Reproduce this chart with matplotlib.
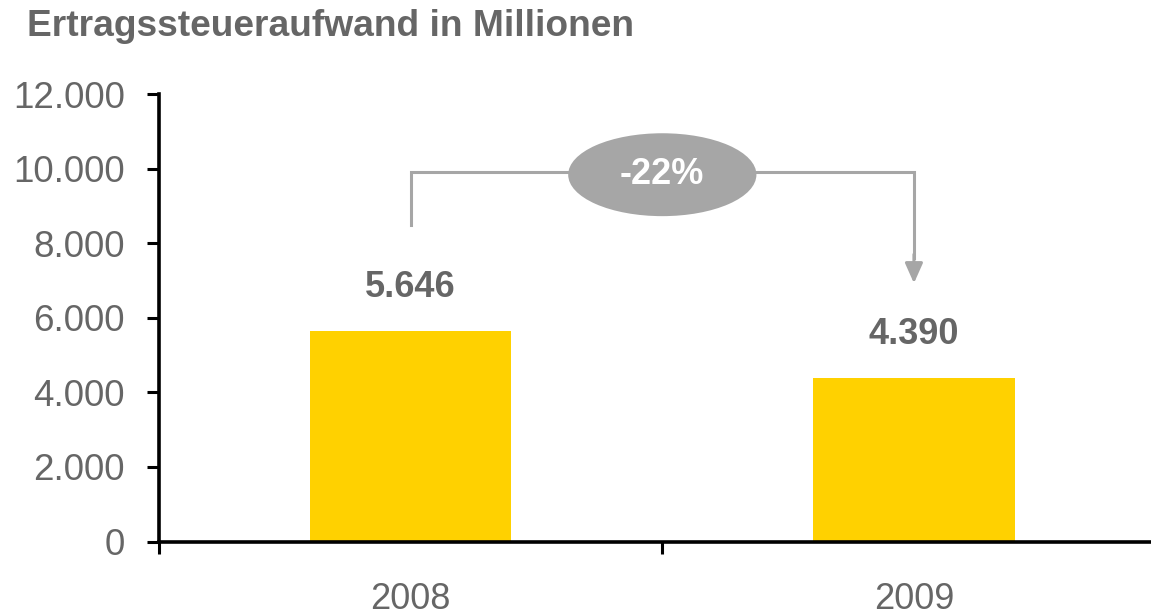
"""Ertragssteueraufwand 2008 vs 2009, bar chart with change bracket."""
import matplotlib

matplotlib.use("Agg")
import matplotlib.pyplot as plt
from matplotlib.patches import Ellipse
from matplotlib.ticker import FuncFormatter

years = ["2008", "2009"]
tax_expense = [5646, 4390]
y_ticks = [0, 2000, 4000, 6000, 8000, 10000, 12000]

TITLE = "Ertragssteueraufwand in Millionen"
BAR_COLOR = "#FFD100"
TEXT_GRAY = "#666666"
LINE_GRAY = "#A6A6A6"

plt.rcParams["font.family"] = ["Liberation Sans", "DejaVu Sans"]


def de_thousands(v, _pos=None):
    return f"{int(round(v)):,}".replace(",", ".")


def main():
    fig = plt.figure(figsize=(11.51, 6.12), dpi=100)
    ax = fig.add_axes([159 / 1151, 1 - 541.5 / 612, 1 - 159 / 1151, (541.5 - 94) / 612])

    x = list(range(len(years)))
    ax.bar(x, tax_expense, width=0.40, color=BAR_COLOR, zorder=2)

    ax.set_yticks(y_ticks)
    ax.yaxis.set_major_formatter(FuncFormatter(de_thousands))

    # category labels without marks, boundary ticks as minor marks
    ax.set_xticks(x)
    ax.set_xticklabels(years)
    ax.set_xticks([-0.5, 0.5, 1.5], minor=True)
    # limits last, set_xticks would widen them
    ax.set_xlim(-0.5, 1.471)
    ax.set_ylim(0, 12000)
    ax.tick_params(axis="x", which="major", length=0, pad=29,
                   labelsize=26, labelcolor=TEXT_GRAY)
    ax.tick_params(axis="x", which="minor", length=8.5, width=2.2,
                   direction="out", color="black")
    ax.tick_params(axis="y", length=8.5, width=2.2, direction="out",
                   pad=16, labelsize=26.5, labelcolor=TEXT_GRAY)

    for side in ("top", "right"):
        ax.spines[side].set_visible(False)
    for side in ("left", "bottom"):
        ax.spines[side].set_linewidth(2.6)
        ax.spines[side].set_color("black")
        ax.spines[side].set_zorder(3)

    # value labels
    for xi, v in zip(x, tax_expense):
        ax.annotate(de_thousands(v), xy=(xi, v), xytext=(0, 24.5),
                    textcoords="offset points", ha="center", va="baseline",
                    fontsize=26, fontweight="bold", color=TEXT_GRAY)

    # change bracket
    top_y = 9900
    ax.plot([0, 0, 1, 1], [8480, top_y, top_y, 7600], color=LINE_GRAY,
            lw=2.2, solid_joinstyle="miter", zorder=3)
    ax.annotate("", xy=(1, 6925), xytext=(1, 7700),
                arrowprops=dict(arrowstyle="-|>,head_length=0.45,head_width=0.2",
                                color=LINE_GRAY, lw=2.2, mutation_scale=27,
                                shrinkA=0, shrinkB=0), zorder=3)
    ax.add_patch(Ellipse((0.5, 9836), width=0.374, height=2223,
                         facecolor=LINE_GRAY, edgecolor="none", zorder=4))
    change = (tax_expense[1] - tax_expense[0]) / tax_expense[0] * 100
    ax.text(0.5, 9836, f"{change:.0f}%", ha="center", va="center",
            fontsize=26, fontweight="bold", color="white", zorder=5)

    fig.text(27 / 1151, 1 - 36 / 612, TITLE, ha="left", va="baseline",
             fontsize=26.7, fontweight="bold", color=TEXT_GRAY)

    fig.savefig("out.png", dpi=100)


if __name__ == "__main__":
    main()
